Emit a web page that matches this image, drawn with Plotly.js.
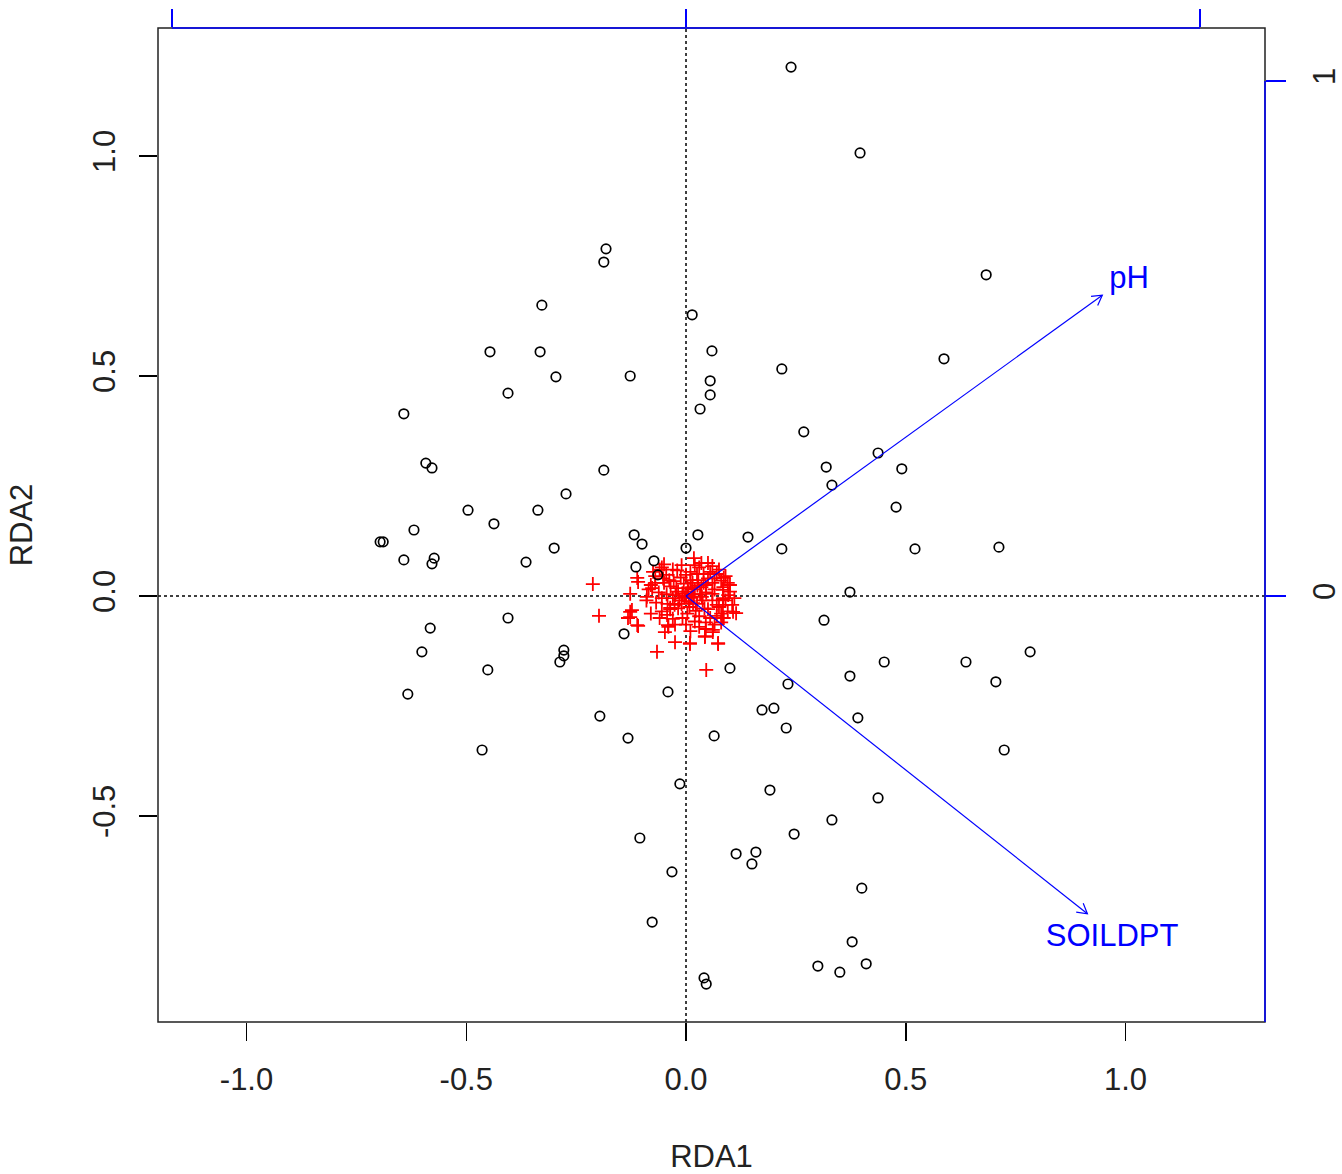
<!DOCTYPE html>
<html>
<head>
<meta charset="utf-8">
<script src="https://cdn.plot.ly/plotly-3.0.1.min.js"></script>
<style>html,body{margin:0;padding:0;background:#fff;}#plot{width:1342px;height:1174px;}</style>
</head>
<body>
<div id="plot"></div>
<script>
// Site scores (black open circles)
var siteX = [-0.182,-0.187,-0.328,-0.446,-0.332,-0.296,-0.405,-0.642,-0.592,-0.578,-0.127,-0.187,-0.273,-0.496,-0.337,-0.437,-0.619,-0.696,-0.689,-0.642,-0.573,-0.578,-0.364,-0.300,-0.118,-0.100,-0.073,-0.114,-0.064,0.000,
  0.239,0.396,0.683,0.014,0.059,0.218,0.587,0.055,0.055,0.032,0.268,0.437,0.319,0.491,0.332,0.478,0.027,0.141,0.218,0.521,0.712,0.373,
  -0.405,-0.582,-0.601,-0.451,-0.633,-0.278,-0.278,-0.287,-0.141,-0.041,-0.196,-0.132,-0.464,-0.014,-0.105,-0.032,-0.077,
  0.314,0.783,0.451,0.637,0.373,0.705,0.100,0.232,0.173,0.200,0.228,0.391,0.064,0.724,0.191,0.437,0.332,0.246,0.114,0.159,0.150,0.400,0.378,0.300,0.350,0.410,0.041,0.046];
var siteY = [0.789,0.759,0.661,0.555,0.555,0.498,0.461,0.414,0.302,0.291,0.500,0.286,0.232,0.195,0.195,0.164,0.150,0.123,0.123,0.082,0.086,0.073,0.077,0.109,0.139,0.118,0.080,0.066,0.048,0.109,
  1.202,1.007,0.730,0.639,0.557,0.516,0.539,0.489,0.457,0.425,0.373,0.325,0.293,0.289,0.252,0.202,0.139,0.134,0.107,0.107,0.111,0.009,
  -0.050,-0.073,-0.127,-0.168,-0.223,-0.123,-0.136,-0.150,-0.086,-0.218,-0.273,-0.323,-0.350,-0.427,-0.550,-0.627,-0.741,
  -0.055,-0.127,-0.150,-0.150,-0.182,-0.195,-0.164,-0.200,-0.259,-0.255,-0.300,-0.277,-0.318,-0.350,-0.441,-0.459,-0.509,-0.541,-0.586,-0.582,-0.609,-0.664,-0.786,-0.841,-0.855,-0.836,-0.868,-0.882];

// Species scores (red crosses)
var speciesX = [-0.212,-0.198,-0.127,-0.127,-0.132,-0.111,-0.111,-0.109,-0.066,-0.048,-0.041,-0.089,0.018,0.086,0.114,0.086,0.061,0.043,0.073,0.009,0.046,0.096,0.084,-0.025,
  -0.123,-0.127,-0.109,-0.077,-0.055,-0.036,-0.043,0.084,0.084,0.084,0.061,0.043,0.073,0.009,0.107,
  0.000,0.005,-0.008,0.012,-0.015,0.020,-0.022,0.025,-0.030,0.008,-0.005,0.032,-0.018,0.015,-0.035,0.038,0.003,-0.042,0.028,-0.012,
  0.045,0.050,-0.050,-0.055,0.060,-0.062,0.010,-0.020,0.020,-0.030,0.040,-0.045,0.055,-0.060,0.065,-0.070,0.070,-0.068,0.030,0.000,
  0.075,-0.075,0.080,-0.080,0.085,-0.085,0.050,-0.050,0.045,-0.040,0.090,-0.090,0.060,0.095,-0.055,0.065,
  0.004,-0.010,0.018,-0.024,0.010,-0.028,0.035,0.022,-0.036,0.042,-0.044,0.046,0.000,-0.008,0.030,-0.052,0.014,-0.018,0.006,0.026,-0.004,0.016,-0.026,0.036,-0.038,
  0.070,0.080,0.090,0.100,0.105,0.095,0.075,0.060,0.055,0.035,0.020,-0.010,0.045,0.030,0.010,0.070,0.080,0.100,0.110,0.060,-0.060,-0.070,-0.030,-0.080,-0.025,0.050,0.040,0.065,0.085,0.025];
var speciesY = [0.027,-0.045,0.005,-0.036,-0.050,-0.066,0.041,0.032,-0.127,-0.082,-0.066,-0.002,0.086,0.041,-0.039,-0.050,-0.077,-0.091,-0.109,-0.109,-0.168,0.002,-0.020,-0.105,
  -0.032,-0.048,-0.068,0.018,-0.005,-0.027,-0.043,0.014,-0.009,-0.050,-0.082,-0.093,-0.107,-0.107,-0.036,
  0.000,0.010,0.006,-0.004,-0.010,0.015,0.018,-0.018,-0.005,-0.025,0.028,0.004,-0.028,0.030,0.022,-0.010,-0.040,-0.018,0.036,0.042,
  0.025,-0.030,0.030,-0.035,0.005,0.008,0.055,0.058,-0.058,-0.052,0.050,0.048,-0.050,-0.050,0.040,0.030,-0.020,-0.015,0.065,-0.065,
  0.060,0.055,-0.040,-0.040,0.020,0.015,0.075,0.072,-0.075,-0.070,-0.010,-0.010,0.068,0.030,0.065,-0.065,
  0.018,-0.018,0.004,0.002,0.036,0.034,0.020,-0.034,-0.030,-0.028,0.004,0.008,0.048,-0.050,-0.046,0.040,0.020,0.010,-0.012,0.024,-0.004,-0.016,-0.020,-0.002,0.036,
  0.050,0.035,0.045,0.010,-0.020,-0.035,-0.025,0.030,0.055,0.075,0.070,0.070,-0.060,-0.070,-0.080,-0.045,-0.060,0.025,-0.005,-0.010,0.060,0.045,0.060,0.025,-0.065,0.040,0.030,0.015,-0.005,0.050];

// Environmental biplot arrows (secondary axes)
var envNames = ["pH", "SOILDPT"];
var envX = [0.810, 0.781];
var envY = [0.584, -0.617];
var envLabelX = [0.862, 0.829];
var envLabelY = [0.614, -0.664];

// Tick labels
var xTickVals = [-1, -0.5, 0, 0.5, 1];
var xTickText = ["-1.0", "-0.5", "0.0", "0.5", "1.0"];
var yTickVals = [-0.5, 0, 0.5, 1];
var yTickText = ["-0.5", "0.0", "0.5", "1.0"];
var x2TickVals = [-1, 0, 1];
var y2TickVals = [0, 1];
var y2TickText = ["0", "1"];

var FONT = "Liberation Sans, Arial, sans-serif";
var BLUE = "#0000FF";
var xr = [-1.2014, 1.3174], yr = [-0.9682, 1.2909];
var x2r = [-1.027, 1.1265], y2r = [-0.8272, 1.1029];

var traces = [];
traces.push({
  type: "scatter", mode: "markers", x: speciesX, y: speciesY, xaxis: "x", yaxis: "y",
  marker: {symbol: "cross-thin-open", size: 10, color: "#FF0000", line: {color: "#FF0000", width: 1.8}},
  hoverinfo: "skip", showlegend: false
});
traces.push({
  type: "scatter", mode: "markers", x: siteX, y: siteY, xaxis: "x", yaxis: "y",
  marker: {symbol: "circle-open", size: 9.5, color: "#000000", line: {color: "#000000", width: 1.7}},
  hoverinfo: "skip", showlegend: false
});
// arrows: shaft + open V head computed from data
var headLen = 0.022, headAng = Math.PI / 6;
for (var i = 0; i < envNames.length; i++) {
  var tx = envX[i], ty = envY[i];
  var th = Math.atan2(ty, tx);
  var hx1 = tx - headLen * Math.cos(th - headAng), hy1 = ty - headLen * Math.sin(th - headAng);
  var hx2 = tx - headLen * Math.cos(th + headAng), hy2 = ty - headLen * Math.sin(th + headAng);
  traces.push({
    type: "scatter", mode: "lines", xaxis: "x2", yaxis: "y2",
    x: [0, tx, null, hx1, tx, hx2], y: [0, ty, null, hy1, ty, hy2],
    line: {color: BLUE, width: 1.2}, hoverinfo: "skip", showlegend: false
  });
}
traces.push({
  type: "scatter", mode: "text", xaxis: "x2", yaxis: "y2",
  x: envLabelX, y: envLabelY, text: envNames, textposition: "middle center",
  textfont: {family: FONT, size: 31, color: BLUE}, hoverinfo: "skip", showlegend: false
});

var layout = {
  width: 1342, height: 1174,
  margin: {l: 158, r: 77, t: 28, b: 152, pad: 0},
  paper_bgcolor: "#ffffff", plot_bgcolor: "#ffffff",
  font: {family: FONT, size: 31, color: "#000000"},
  showlegend: false,
  xaxis: {
    range: xr, showgrid: false, zeroline: false, showline: false,
    tickmode: "array", tickvals: xTickVals, ticktext: xTickText,
    ticks: "outside", ticklen: 18, tickwidth: 1.5, tickcolor: "#000000",
    tickfont: {family: FONT, size: 31, color: "#222222"}, ticklabelstandoff: 12,
    title: {text: "RDA1", font: {family: FONT, size: 31, color: "#222222"}, standoff: 52},
    fixedrange: true
  },
  yaxis: {
    range: yr, showgrid: false, zeroline: false, showline: false,
    tickmode: "array", tickvals: yTickVals, ticktext: yTickText, tickangle: -90,
    ticks: "outside", ticklen: 18, tickwidth: 1.5, tickcolor: "#000000",
    tickfont: {family: FONT, size: 31, color: "#222222"}, ticklabelstandoff: 12,
    title: {text: "RDA2", font: {family: FONT, size: 31, color: "#222222"}, standoff: 44},
    fixedrange: true
  },
  xaxis2: {
    range: x2r, overlaying: "x", side: "top", anchor: "y",
    showgrid: false, zeroline: false, showline: false,
    tickmode: "array", tickvals: x2TickVals, showticklabels: false,
    ticks: "outside", ticklen: 18, tickwidth: 1.5, tickcolor: BLUE, fixedrange: true
  },
  yaxis2: {
    range: y2r, overlaying: "y", side: "right", anchor: "x",
    showgrid: false, zeroline: false, showline: false,
    tickmode: "array", tickvals: y2TickVals, ticktext: y2TickText, tickangle: -90,
    ticks: "outside", ticklen: 20, tickwidth: 1.5, tickcolor: BLUE,
    tickfont: {family: FONT, size: 31, color: "#222222"}, ticklabelstandoff: 12, fixedrange: true
  },
  shapes: [
    {type: "line", xref: "x", yref: "paper", x0: 0, x1: 0, y0: 0, y1: 1, layer: "below",
     line: {color: "#000000", width: 1.5, dash: "dot"}},
    {type: "line", xref: "paper", yref: "y", x0: 0, x1: 1, y0: 0, y1: 0, layer: "below",
     line: {color: "#000000", width: 1.5, dash: "dot"}},
    {type: "rect", xref: "paper", yref: "paper", x0: 0, x1: 1, y0: 0, y1: 1, layer: "above",
     line: {color: "#222222", width: 1.5}},
    {type: "line", xref: "x2", yref: "paper", x0: x2TickVals[0], x1: x2TickVals[x2TickVals.length - 1], y0: 1, y1: 1, layer: "above",
     line: {color: BLUE, width: 1.5}},
    {type: "line", xref: "paper", yref: "y2", x0: 1, x1: 1, y0: y2r[0], y1: y2TickVals[y2TickVals.length - 1], layer: "above",
     line: {color: BLUE, width: 1.5}}
  ]
};

Plotly.newPlot("plot", traces, layout, {staticPlot: true, displayModeBar: false});
</script>
</body>
</html>
